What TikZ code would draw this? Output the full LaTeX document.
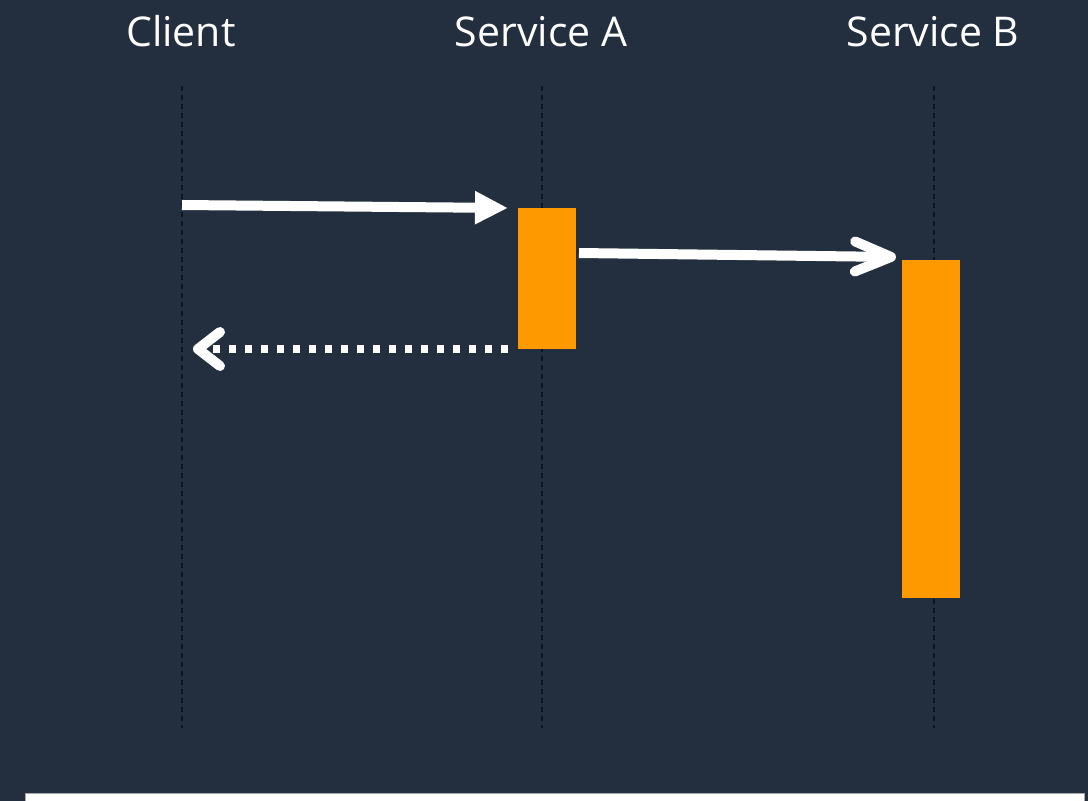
\documentclass[tikz,border=0pt]{standalone}
\usepackage{fontspec}
\setmainfont{Open Sans}
\usetikzlibrary{arrows.meta}
\definecolor{bgnavy}{HTML}{232F3E}
\definecolor{awsorange}{HTML}{FF9900}
\definecolor{lifeline}{HTML}{0E151F}
\tikzset{
  title/.style={text=white, font=\fontsize{41}{48}\selectfont, anchor=base, inner sep=0pt},
  lifeln/.style={draw=lifeline, line width=1.3pt, dash pattern=on 5pt off 4pt},
  actbox/.style={fill=awsorange, draw=none, inner sep=0pt, anchor=north west},
  callarrow/.style={draw=white, line width=10pt},
  retarrow/.style={draw=white, line width=7.5pt, dash pattern=on 7pt off 9pt}
}
\begin{document}
\begin{tikzpicture}[x=1pt,y=-1pt]
\useasboundingbox (0,0) rectangle (1088,801);
\clip (0,0) rectangle (1088,801);
\fill[bgnavy] (0,0) rectangle (1088,801);
% titles
\node[title] (tc) at (181,46) {Client};
\node[title] (ta) at (541,46) {Service A};
\node[title] (tb) at (933,46) {Service B};
% lifelines
\coordinate (c0) at (182,86); \coordinate (c1) at (182,728);
\coordinate (a0) at (542,86); \coordinate (a1) at (542,728);
\coordinate (b0) at (934,86); \coordinate (b1) at (934,728);
\draw[lifeln] (c0) -- (c1);
\draw[lifeln] (a0) -- (a1);
\draw[lifeln] (b0) -- (b1);
% activation boxes
\node[actbox, minimum width=58pt, minimum height=141pt] (boxA) at (518,208) {};
\node[actbox, minimum width=58pt, minimum height=338pt] (boxB) at (902,260) {};
% messages
\coordinate (m1s) at (182,205);
\coordinate (m1e) at (508,208);
\draw[callarrow, -{Triangle[length=33pt,width=31pt]}] (m1s) -- (m1e);
\coordinate (m2s) at (579,253);
\coordinate (m2e) at (896,257);
\draw[callarrow, -{Straight Barb[length=36pt,width=30pt,round]}] (m2s) -- (m2e);
\coordinate (m3s) at (508,349);
\coordinate (m3e) at (193,349);
\draw[retarrow, -{Straight Barb[length=22pt,width=34pt,round,line width=10pt]}] (m3s) -- (m3e);
% bottom panel
\node[draw=gray!70, fill=white, line width=1pt, anchor=north west, inner sep=0pt, minimum width=1059pt, minimum height=40pt] (panel) at (25,793) {};
\end{tikzpicture}
\end{document}
